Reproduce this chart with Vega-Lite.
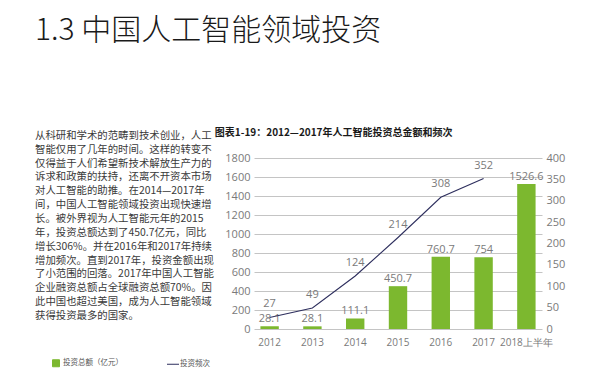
{
  "$schema": "https://vega.github.io/schema/vega-lite/v6.json",
  "padding": {"left": 35, "top": 16, "right": 5, "bottom": 5},
  "background": "white",
  "config": {"view": {"stroke": null}, "font": "Open Sans", "axis": {"labelOverlap": false}},
  "title": {"text": "1.3 中国人工智能领域投资", "font": "Noto Sans CJK SC", "fontSize": 30, "fontWeight": 300, "color": "#1a1a1a", "anchor": "start", "offset": 82},
  "datasets": {
    "para": [
      {"i": 1, "t": "从科研和学术的范畴到技术创业，人工"},
      {"i": 2, "t": "智能仅用了几年的时间。这样的转变不"},
      {"i": 3, "t": "仅得益于人们希望新技术解放生产力的"},
      {"i": 4, "t": "诉求和政策的扶持，还离不开资本市场"},
      {"i": 5, "t": "对人工智能的助推。在2014—2017年"},
      {"i": 6, "t": "间，中国人工智能领域投资出现快速增"},
      {"i": 7, "t": "长。被外界视为人工智能元年的2015"},
      {"i": 8, "t": "年，投资总额达到了450.7亿元，同比"},
      {"i": 9, "t": "增长306%。并在2016年和2017年持续"},
      {"i": 10, "t": "增加频次。直到2017年，投资金额出现"},
      {"i": 11, "t": "了小范围的回落。2017年中国人工智能"},
      {"i": 12, "t": "企业融资总额占全球融资总额70%。因"},
      {"i": 13, "t": "此中国也超过美国，成为人工智能领域"},
      {"i": 14, "t": "获得投资最多的国家。"}
    ],
    "inv": [
      {"year": "2012", "amount": 28.1, "freq": 27},
      {"year": "2013", "amount": 28.1, "freq": 49},
      {"year": "2014", "amount": 111.1, "freq": 124},
      {"year": "2015", "amount": 450.7, "freq": 214},
      {"year": "2016", "amount": 760.7, "freq": 308},
      {"year": "2017", "amount": 754, "freq": 352},
      {"year": "2018上半年", "amount": 1526.6, "freq": null}
    ]
  },
  "hconcat": [
    {
      "data": {"name": "para"},
      "width": 180,
      "height": {"step": 13.85},
      "mark": {"type": "text", "align": "left", "baseline": "middle", "dy": -29, "font": "Noto Sans CJK SC", "fontSize": 10.4, "color": "#3a3a3a"},
      "encoding": {
        "y": {"field": "i", "type": "ordinal", "axis": null},
        "x": {"datum": 0, "type": "quantitative", "scale": {"domain": [0, 1]}, "axis": null},
        "text": {"field": "t"}
      }
    },
    {
      "data": {"name": "inv"},
      "width": 288,
      "height": 171,
      "title": {"text": "图表1-19：2012—2017年人工智能投资总金额和频次", "font": "Noto Sans CJK SC", "fontSize": 10, "fontWeight": "bold", "color": "#1a1a1a", "anchor": "start", "offset": 14, "dx": -10},
      "encoding": {
        "x": {"field": "year", "type": "nominal", "sort": null, "title": null,
              "scale": {"paddingInner": 0.57, "paddingOuter": 0.15},
              "axis": {"labelAngle": 0, "ticks": false, "domain": false, "labelColor": "#7a7a7a", "labelFontSize": 10, "labelPadding": 8, "labelFont": "Open Sans", "labelOverlap": false}}
      },
      "layer": [
        {
          "encoding": {
            "y": {"field": "amount", "type": "quantitative", "title": null,
                  "scale": {"domain": [0, 1800], "nice": false},
                  "axis": {"values": [0, 200, 400, 600, 800, 1000, 1200, 1400, 1600, 1800], "format": "d", "labelOverlap": false, "ticks": false, "domain": false, "gridColor": "#c4c4c4", "labelColor": "#7a7a7a", "labelFontSize": 11, "labelPadding": 4}}
          },
          "layer": [
            {
              "mark": {"type": "bar", "color": "#7cb82f"},
              "encoding": {
                "color": {"datum": "投资总额（亿元）", "type": "nominal",
                          "scale": {"domain": ["投资总额（亿元）", "投资频次"], "range": ["#7cb82f", "#2e2f5e"]},
                          "legend": {"orient": "none", "legendX": 17, "legendY": 201, "direction": "horizontal", "title": null, "labelFont": "Noto Sans CJK SC", "labelFontSize": 7.5, "labelColor": "#555555", "symbolSize": 49, "columnPadding": 42, "labelOffset": 3,
                                     "encode": {"symbols": {"update": {
                                       "shape": {"signal": "datum.value === '投资频次' ? 'stroke' : 'square'"},
                                       "size": {"signal": "datum.value === '投资频次' ? 144 : 49"},
                                       "stroke": {"signal": "datum.value === '投资频次' ? '#2e2f5e' : 'transparent'"},
                                       "strokeWidth": {"value": 1}}}}}}
              }
            },
            {
              "mark": {"type": "text", "baseline": "bottom", "dy": -2, "fontSize": 11, "color": "#7a7a7a"},
              "encoding": {
                "text": {"field": "amount", "type": "quantitative", "format": ".1~f"}
              }
            }
          ]
        },
        {
          "transform": [{"filter": "datum.freq != null"}],
          "encoding": {
            "y": {"field": "freq", "type": "quantitative", "title": null,
                  "scale": {"domain": [0, 400], "nice": false},
                  "axis": {"orient": "right", "values": [0, 50, 100, 150, 200, 250, 300, 350, 400], "labelOverlap": false, "grid": false, "ticks": false, "domain": false, "labelColor": "#7a7a7a", "labelFontSize": 11, "labelPadding": 4}}
          },
          "layer": [
            {
              "mark": {"type": "line", "strokeWidth": 1.1},
              "encoding": {
                "color": {"datum": "投资频次", "type": "nominal"}
              }
            },
            {
              "mark": {"type": "text", "baseline": "bottom", "dy": -8, "fontSize": 11, "color": "#7a7a7a"},
              "encoding": {
                "text": {"field": "freq", "type": "quantitative"}
              }
            }
          ]
        }
      ],
      "resolve": {"scale": {"y": "independent"}}
    }
  ],
  "spacing": -1
}
